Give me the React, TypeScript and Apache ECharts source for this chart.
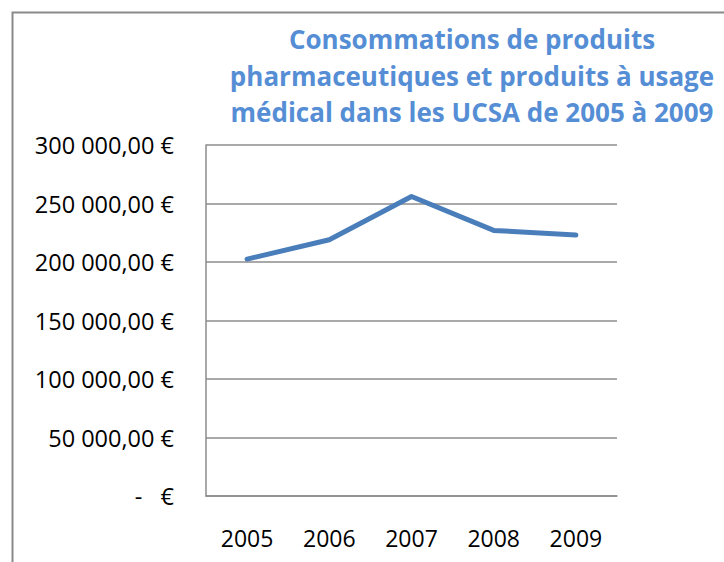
import React, { useEffect, useRef } from "react";
import * as echarts from "echarts";

const titleText = "Consommations de produits\npharmaceutiques et produits à usage\nmédical dans les UCSA de 2005 à 2009";
const years = ["2005", "2006", "2007", "2008", "2009"];
const values = [202500, 219000, 256000, 227000, 223000];

function fmt(v: number): string {
  if (v === 0) return "-   €";
  const s = Math.round(v).toString().replace(/\B(?=(\d{3})+(?!\d))/g, " ");
  return s + ",00 €";
}

export default function App() {
  const ref = useRef<HTMLDivElement>(null);
  useEffect(() => {
    if (!ref.current) return;
    const chart = echarts.init(ref.current, null, { renderer: "svg" });
    const font = "'Open Sans', 'Noto Sans', sans-serif";
    chart.setOption({
      animation: false,
      backgroundColor: "#ffffff",
      title: {
        text: titleText,
        left: 467,
        textAlign: "center",
        top: 16,
        textStyle: {
          color: "#558ed5",
          fontFamily: font,
          fontWeight: "bold",
          fontSize: 26,
          lineHeight: 36.5,
        },
      },
      graphic: [
        {
          type: "rect",
          shape: { x: 12.5, y: 12.5, width: 800, height: 700 },
          style: { fill: "none", stroke: "#8a8a8a", lineWidth: 2 },
          silent: true,
        },
      ],
      grid: { left: 206, top: 145, width: 411, height: 351, containLabel: false },
      xAxis: {
        type: "category",
        data: years,
        boundaryGap: true,
        axisLine: { show: true, lineStyle: { color: "#8c8c8c", width: 1.5 } },
        axisTick: { show: false },
        axisLabel: { color: "#000", fontFamily: font, fontSize: 23, margin: 30 },
      },
      yAxis: {
        type: "value",
        min: 0,
        max: 300000,
        interval: 50000,
        axisLine: { show: true, lineStyle: { color: "#8c8c8c", width: 1.5 } },
        axisTick: { show: false },
        splitLine: { show: true, lineStyle: { color: "#8c8c8c", width: 1.5 } },
        axisLabel: {
          color: "#000",
          fontFamily: font,
          fontSize: 23.5,
          margin: 32,
          formatter: (v: number) => fmt(v),
        },
      },
      series: [
        {
          type: "line",
          data: values,
          symbol: "none",
          lineStyle: { color: "#4a7ebb", width: 5, cap: "round", join: "round" },
        },
      ],
    });
    return () => chart.dispose();
  }, []);
  return (
    <div
      ref={ref}
      style={{ position: "fixed", left: 0, top: 0, width: 724, height: 562 }}
    />
  );
}
